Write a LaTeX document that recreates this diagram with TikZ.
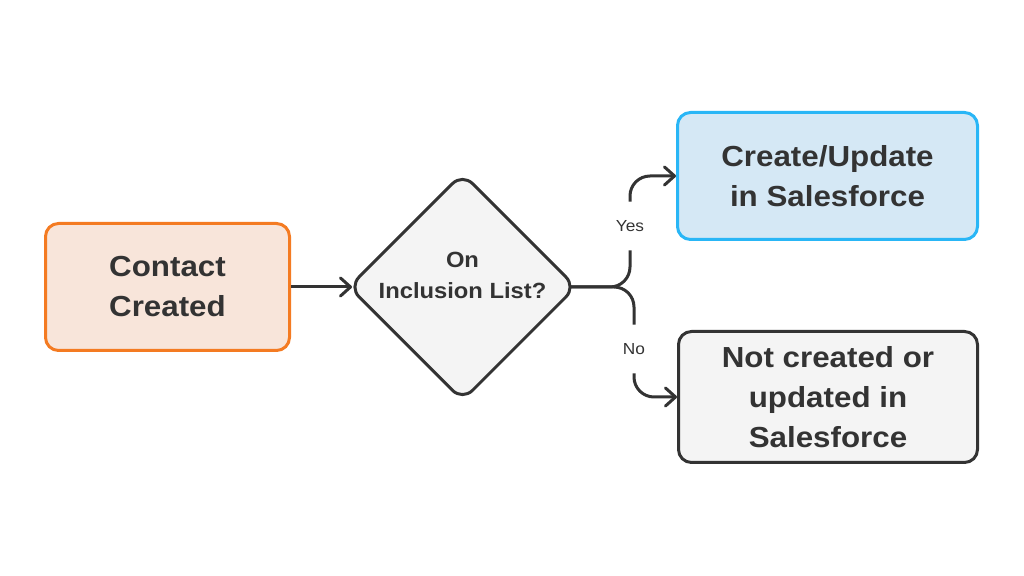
\documentclass[tikz,border=0pt]{standalone}
\usepackage{fontspec}
\setmainfont{Liberation Sans}[FakeStretch=1.08]
\usetikzlibrary{arrows.meta,shapes.geometric}
\definecolor{txtgray}{HTML}{333333}
\definecolor{linegray}{HTML}{333333}
\definecolor{boxgray}{HTML}{F4F4F4}
\definecolor{orgline}{HTML}{F47B22}
\definecolor{orgfill}{HTML}{F8E5DA}
\definecolor{blueline}{HTML}{29B6F6}
\definecolor{bluefill}{HTML}{D5E8F5}
\tikzset{
procbox/.style={
  rectangle,
  rounded corners=6.5pt,
  line width=1.5pt,
  inner sep=0pt,
  align=center,
  text=txtgray,
  font=\fontsize{14.5}{20}\selectfont\bfseries,
  }
}
\tikzset{
decbox/.style={
  diamond,
  aspect=1,
  rounded corners=7pt,
  line width=1.5pt,
  inner sep=0pt,
  minimum width=114pt,
  minimum height=114pt,
  draw=linegray,
  fill=boxgray,
  }
}
\tikzset{
myline/.style={
  line width=1.5pt,
  draw=linegray,
  -{Straight Barb[length=5pt,width=9pt,round]}
  }
}
\tikzset{
branch/.style={
  line width=1.5pt,
  draw=linegray,
  rounded corners=10pt,
  }
}
\tikzset{
answer/.style={
  inner sep=0pt,
  minimum height=24pt,
  text=txtgray,
  font=\fontsize{8}{10}\selectfont,
  }
}

\begin{document}
\begin{tikzpicture}[x=0.5pt,y=-0.5pt]
    \useasboundingbox (0,0) rectangle (1024,576);

    % start
    \node[procbox, draw=orgline, fill=orgfill, minimum width=122pt, minimum height=63.5pt] (contact) at (167.5,287) {Contact\\Created};

    % decision
    \node[decbox] (incl) at (462.5,287) {};
    \node[align=center, inner sep=0pt, text=txtgray, font=\fontsize{11}{15.5}\selectfont\bfseries] (incl_txt) at ([yshift=6pt]incl.center) {On\\Inclusion List?};

    % outcomes
    \node[procbox, draw=blueline, fill=bluefill, minimum width=150pt, minimum height=63.5pt] (create) at (827.5,176) {Create/Update\\in Salesforce};
    \node[procbox, draw=linegray, fill=boxgray, minimum width=149.5pt, minimum height=65.5pt] (notc) at (828,397) {Not created or\\updated in\\Salesforce};

    % answers
    \node[answer] (yes) at (630,226) {Yes};
    \node[answer] (no) at (634,349) {No};

    % edges
    \draw[myline, shorten >=-2.5pt] (contact) -- (incl.west);
    \draw[branch, shorten <=-3.5pt] (incl.east) -| (yes.south);
    \draw[branch, myline] (yes.north) |- (create.west);
    \draw[branch, shorten <=-3.5pt] (incl.east) -| (no.north);
    \draw[branch, myline] (no.south) |- (notc.west);
\end{tikzpicture}
\end{document}
